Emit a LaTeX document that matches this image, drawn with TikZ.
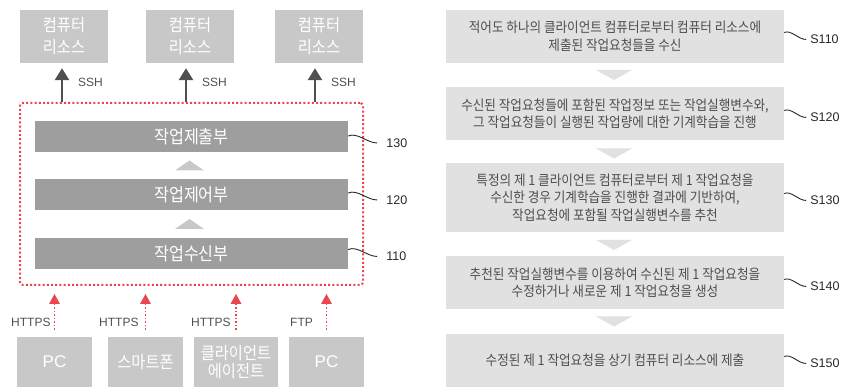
\documentclass[tikz,border=0pt]{standalone}
\usepackage{fontspec}
\setmainfont{Liberation Sans}
\newfontfamily\kr{Noto Sans CJK KR}[FakeStretch=0.9]
\usetikzlibrary{arrows.meta,calc}
\definecolor{cBar}{RGB}{157,158,157}
\definecolor{cLight}{RGB}{200,200,200}
\definecolor{cStep}{RGB}{225,225,225}
\definecolor{cText}{RGB}{78,78,78}
\definecolor{cDark}{RGB}{80,80,80}
\definecolor{cNum}{RGB}{40,40,40}
\definecolor{cRed}{RGB}{232,71,79}
\begin{document}
\begin{tikzpicture}[x=1pt,y=-1pt,
  resbox/.style={fill=cLight, text=white, minimum width=88pt, minimum height=53pt, inner sep=0pt, align=center, font=\kr\fontsize{17}{22}\selectfont},
  barbox/.style={fill=cBar, text=white, minimum width=313pt, minimum height=31pt, inner sep=0pt, font=\kr\fontsize{18}{20}\selectfont},
  clientbox/.style={fill=cLight, text=white, minimum height=50pt, inner sep=0pt, align=center, font=\kr\fontsize{17}{18.5}\selectfont},
  stepbox/.style={fill=cStep, text=cText, minimum width=338pt, inner sep=0pt, align=center, font=\kr\fontsize{14}{17.5}\selectfont},
  sysbox/.style={draw=cRed, line width=2pt, dash pattern=on 2pt off 2.2pt, rounded corners=3pt, minimum width=343pt, minimum height=182pt, inner sep=0pt},
  ssharrow/.style={draw=cDark, line width=2.6pt, -{Triangle[width=14pt,length=12pt]}, shorten >=5pt},
  redarrow/.style={draw=cRed, line width=1.4pt, dash pattern=on 1.5pt off 2pt, -{Triangle[width=11pt,length=10pt,fill=cRed,line width=0pt]}},
  lbl/.style={font=\fontsize{12}{14}\selectfont, text=cDark, inner sep=0pt},
  numlbl/.style={font=\fontsize{12.5}{14}\selectfont, text=cNum, inner sep=0pt, anchor=west},
  leader/.style={draw=cNum, line width=0.9pt},
  uptri/.style={fill=cLight},
  downtri/.style={fill=cStep}
]
\useasboundingbox (0,0) rectangle (855,387);

% computer resources
\node[resbox] (r1) at (64,36.5) {컴퓨터\\리소스};
\node[resbox] (r2) at (190,36.5) {컴퓨터\\리소스};
\node[resbox] (r3) at (319,36.5) {컴퓨터\\리소스};

% system box
\node[sysbox] (sys) at (191.5,194) {};

% SSH arrows
\draw[ssharrow] ([xshift=-2pt]r1.south |- sys.north) -- ([xshift=-2pt]r1.south);
\draw[ssharrow] ([xshift=-4pt]r2.south |- sys.north) -- ([xshift=-4pt]r2.south);
\draw[ssharrow] ([xshift=-4pt]r3.south |- sys.north) -- ([xshift=-4pt]r3.south);
\node[lbl, anchor=west] (ssh1) at (78,82) {SSH};
\node[lbl, anchor=west] (ssh2) at (202,82) {SSH};
\node[lbl, anchor=west] (ssh3) at (331,82) {SSH};

% bars
\node[barbox] (b1) at (191.5,136.5) {작업제출부};
\node[barbox] (b2) at (191.5,194.5) {작업제어부};
\node[barbox] (b3) at (191.5,253.5) {작업수신부};

% up triangles
\fill[uptri] ($(b1.south)!0.5!(b2.north)+(-16.5,5)$) -- ++(29,0) -- ++(-14.5,-10) -- cycle;
\fill[uptri] ($(b2.south)!0.5!(b3.north)+(-16.5,5)$) -- ++(29,0) -- ++(-14.5,-10) -- cycle;

% leaders for bars
\draw[leader] ([yshift=0.5pt]b1.east) .. controls +(9,-4) and +(-10,0) .. ++(29,7) coordinate (e130);
\node[numlbl] (n130) at ([xshift=9pt]e130) {130};
\draw[leader] ([yshift=1.5pt]b2.east) .. controls +(9,-4) and +(-10,0) .. ++(29,7) coordinate (e120);
\node[numlbl] (n120) at ([xshift=9pt]e120) {120};
\draw[leader] ([yshift=4pt]b3.east) .. controls +(9,-4) and +(-10,0) .. ++(29,7) coordinate (e110);
\node[numlbl] (n110) at ([xshift=9pt]e110) {110};

% clients
\node[clientbox, minimum width=75pt, font=\fontsize{17}{18}\selectfont] (c1) at (54.5,362) {PC};
\node[clientbox, minimum width=75pt] (c2) at (145.5,362) {스마트폰};
\node[clientbox, minimum width=84pt] (c3) at (236,362) {클라이언트\\에이전트};
\node[clientbox, minimum width=75pt, font=\fontsize{17}{18}\selectfont] (c4) at (326.5,362) {PC};

% red arrows
\draw[redarrow, shorten <=7pt, shorten >=8pt] (c1.north) -- (c1.north |- sys.south);
\draw[redarrow, shorten <=7pt, shorten >=8pt] (c2.north) -- (c2.north |- sys.south);
\draw[redarrow, shorten <=7pt, shorten >=8pt] (c3.north) -- (c3.north |- sys.south);
\draw[redarrow, shorten <=7pt, shorten >=8pt] (c4.north) -- (c4.north |- sys.south);
\node[lbl, anchor=west] (p1) at (11,322) {HTTPS};
\node[lbl, anchor=west] (p2) at (99,322) {HTTPS};
\node[lbl, anchor=west] (p3) at (191,322) {HTTPS};
\node[lbl, anchor=west] (p4) at (290,322) {FTP};

% flowchart
\node[stepbox, minimum height=53pt] (s1) at (615,36.5) {적어도 하나의 클라이언트 컴퓨터로부터 컴퓨터 리소스에\\제출된 작업요청들을 수신};
\node[stepbox, minimum height=53pt] (s2) at (615,113.5) {수신된 작업요청들에 포함된 작업정보 또는 작업실행변수와,\\그 작업요청들이 실행된 작업량에 대한 기계학습을 진행};
\node[stepbox, minimum height=69pt] (s3) at (615,197.5) {특정의 제 1 클라이언트 컴퓨터로부터 제 1 작업요청을\\수신한 경우 기계학습을 진행한 결과에 기반하여,\\작업요청에 포함될 작업실행변수를 추천};
\node[stepbox, minimum height=53pt] (s4) at (615,282.5) {추천된 작업실행변수를 이용하여 수신된 제 1 작업요청을\\수정하거나 새로운 제 1 작업요청을 생성};
\node[stepbox, minimum height=53pt] (s5) at (615,360.5) {수정된 제 1 작업요청을 상기 컴퓨터 리소스에 제출};

% down triangles
\fill[downtri] ($(s1.south)!0.5!(s2.north)+(-19,-5)$) -- ++(36,0) -- ++(-18,10) -- cycle;
\fill[downtri] ($(s2.south)!0.5!(s3.north)+(-19,-3)$) -- ++(36,0) -- ++(-18,10) -- cycle;
\fill[downtri] ($(s3.south)!0.5!(s4.north)+(-19,-4)$) -- ++(36,0) -- ++(-18,10) -- cycle;
\fill[downtri] ($(s4.south)!0.5!(s5.north)+(-19,-5)$) -- ++(36,0) -- ++(-18,10) -- cycle;

% step leaders
\draw[leader] ([yshift=4pt]s1.east) .. controls +(7,-3) and +(-8,0) .. ++(22,7) coordinate (t1);
\node[numlbl] (S110) at ([xshift=4pt]t1) {S110};
\draw[leader] ([yshift=3pt]s2.east) .. controls +(7,-3) and +(-8,0) .. ++(22,7) coordinate (t2);
\node[numlbl] (S120) at ([xshift=4pt]t2) {S120};
\draw[leader] ([yshift=4pt]s3.east) .. controls +(7,-3) and +(-8,0) .. ++(22,7) coordinate (t3);
\node[numlbl] (S130) at ([xshift=4pt]t3) {S130};
\draw[leader] ([yshift=3pt]s4.east) .. controls +(7,-3) and +(-8,0) .. ++(22,7) coordinate (t4);
\node[numlbl] (S140) at ([xshift=4pt]t4) {S140};
\draw[leader] ([yshift=4pt]s5.east) .. controls +(7,-3) and +(-8,0) .. ++(22,7) coordinate (t5);
\node[numlbl] (S150) at ([xshift=4pt]t5) {S150};
\end{tikzpicture}
\end{document}
